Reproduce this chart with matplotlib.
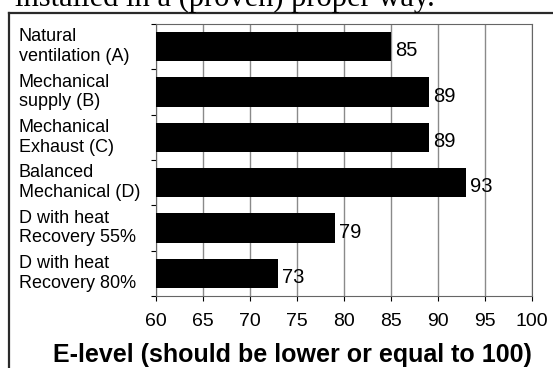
import matplotlib
matplotlib.use("Agg")
import matplotlib.pyplot as plt
from matplotlib.lines import Line2D
from matplotlib.transforms import blended_transform_factory

# E-level per ventilation system
categories = [
    "Natural\nventilation (A)",
    "Mechanical\nsupply (B)",
    "Mechanical\nExhaust (C)",
    "Balanced\nMechanical (D)",
    "D with heat\nRecovery 55%",
    "D with heat\nRecovery 80%",
]
e_levels = [85, 89, 89, 93, 79, 73]
x_ticks = [60, 65, 70, 75, 80, 85, 90, 95, 100]
x_label = "E-level (should be lower or equal to 100)"
heading = "installed in a (proven) proper way."

W, H, DPI = 553, 368, 100
plt.rcParams["font.family"] = ["Liberation Sans", "DejaVu Sans"]

fig = plt.figure(figsize=(W / DPI, H / DPI), dpi=DPI)
fig.patch.set_facecolor("white")

def fx(px):
    return px / W

def fy(py):
    return 1 - py / H

# heading line of the surrounding document, clipped at the top edge
fig.text(fx(15), fy(6), heading, family=["Liberation Serif", "DejaVu Serif"],
         fontsize=22, ha="left", va="baseline", color="black")

# outer chart frame
fig.add_artist(Line2D([fx(9), 1.0], [fy(13), fy(13)], color="#2a2a2a", lw=1.6))
fig.add_artist(Line2D([fx(9), fx(9)], [fy(13), 0.0], color="#2a2a2a", lw=1.6))

left, right, top, bottom = 156, 532, 24, 296
ax = fig.add_axes([fx(left), fy(bottom), fx(right - left), (bottom - top) / H])

ypos = list(range(len(categories)))
ax.barh(ypos, e_levels, height=0.65, color="black", zorder=3)

ax.set_xlim(x_ticks[0], x_ticks[-1])
ax.set_ylim(len(categories) - 0.5, -0.5)

ax.set_xticks(x_ticks)
ax.set_xticklabels([str(t) for t in x_ticks], fontsize=14)
ax.tick_params(axis="x", direction="out", length=3.5, width=0.8, pad=9,
               color="black")
ax.set_yticks([i - 0.5 for i in range(len(categories) + 1)])
ax.set_yticklabels([])
ax.tick_params(axis="y", direction="out", length=3.5, width=0.8, color="black")

ax.grid(axis="x", color="#8a8a8a", lw=1.0, zorder=0)
ax.set_axisbelow(True)
for s in ax.spines.values():
    s.set_linestyle((0, (1, 1)))
    s.set_color("#666666")
    s.set_linewidth(0.8)

# value labels at the bar ends
for y, v in zip(ypos, e_levels):
    ax.annotate(str(v), (v, y), xytext=(3, -3), textcoords="offset points",
                ha="left", va="center", fontsize=14.5, color="black")

# category labels, left aligned inside the frame
trans = blended_transform_factory(fig.transFigure, ax.transData)
for y, lab in zip(ypos, categories):
    ax.text(fx(19), y, lab, transform=trans, ha="left", va="center",
            fontsize=13, linespacing=1.2, color="black")

fig.text(fx(292), fy(362), x_label, ha="center", va="baseline",
         fontsize=18, fontweight="bold", color="black")

fig.savefig("out.png", dpi=DPI, facecolor="white")
